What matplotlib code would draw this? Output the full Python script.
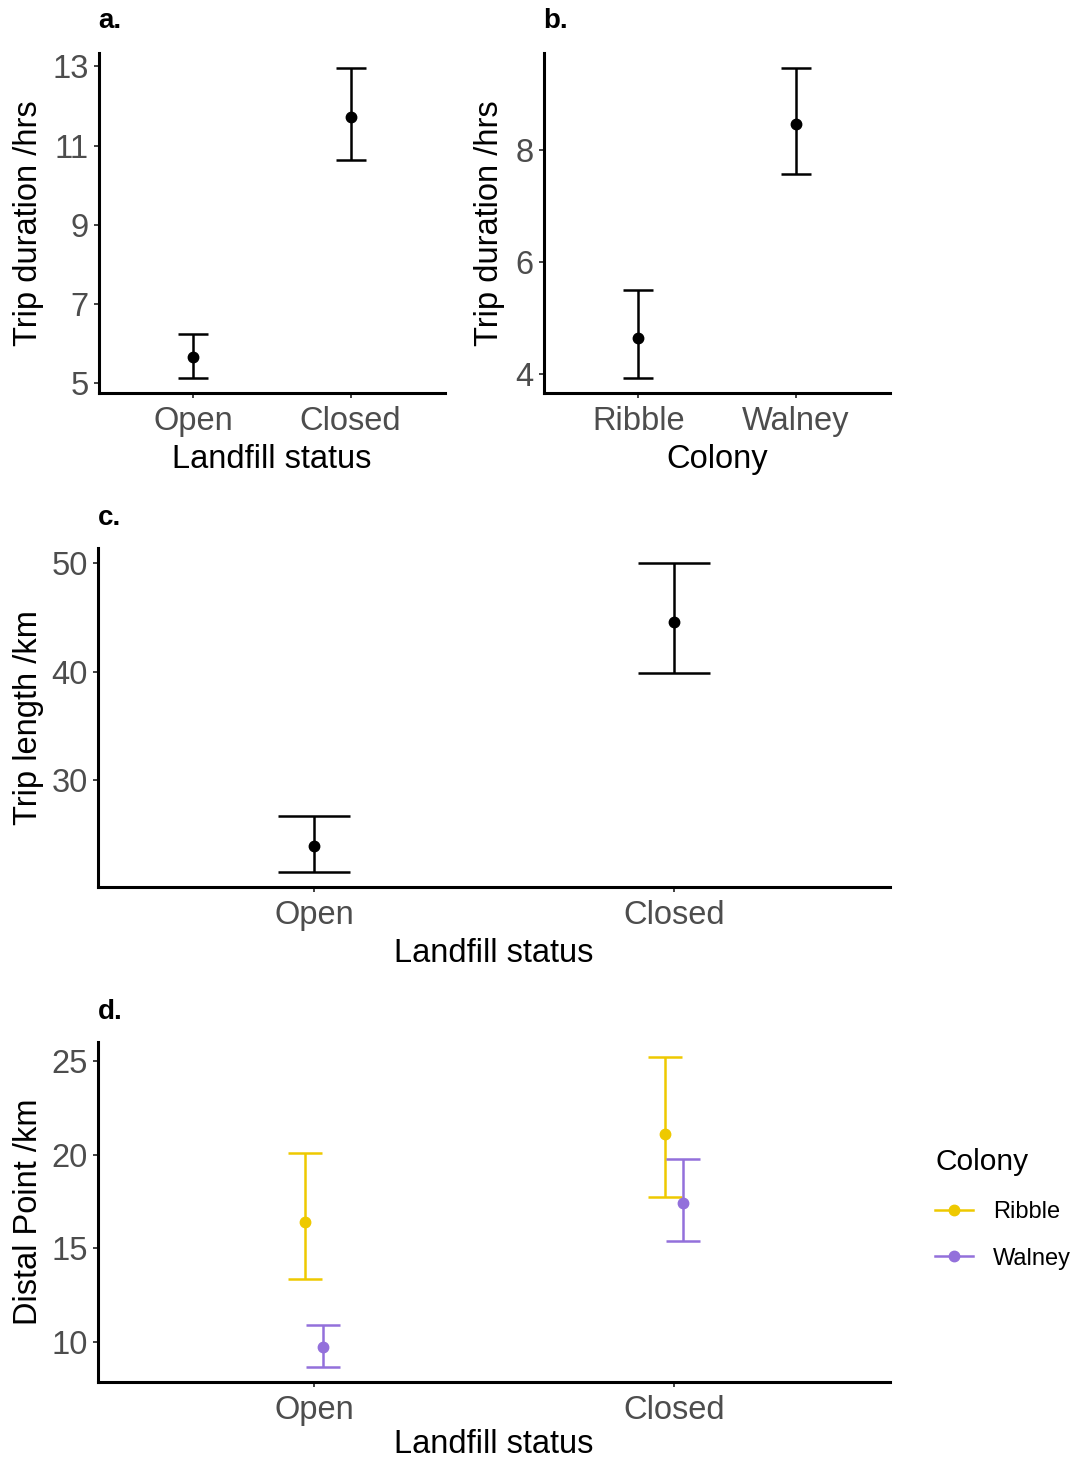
import matplotlib
matplotlib.use("Agg")
import matplotlib.pyplot as plt
from matplotlib.lines import Line2D
import numpy as np

plt.rcParams['font.family'] = ['Liberation Sans', 'DejaVu Sans']

# ---- data ----
landfill = ["Open", "Closed"]
colonies = ["Ribble", "Walney"]

dur_landfill_mean = [5.66, 11.72]
dur_landfill_low = [5.15, 10.63]
dur_landfill_high = [6.24, 12.95]

dur_colony_mean = [4.64, 8.45]
dur_colony_low = [3.93, 7.57]
dur_colony_high = [5.50, 9.45]

len_landfill_mean = [23.94, 44.6]
len_landfill_low = [21.6, 39.9]
len_landfill_high = [26.7, 50.0]

distal_ribble_mean = [16.39, 21.12]
distal_ribble_low = [13.35, 17.76]
distal_ribble_high = [20.07, 25.2]
distal_walney_mean = [9.70, 17.44]
distal_walney_low = [8.67, 15.39]
distal_walney_high = [10.87, 19.77]

y_ticks_a = [5, 7, 9, 11, 13]
y_ticks_b = [4, 6, 8]
y_ticks_c = [30, 40, 50]
y_ticks_d = [10, 15, 20, 25]

RIBBLE_COL = "#EEC900"
WALNEY_COL = "#9370DB"

W, H = 1078, 1461
fig = plt.figure(figsize=(W / 100, H / 100), dpi=100)


def add_ax(left, top, right, bottom):
    return fig.add_axes([left / W, 1 - bottom / H, (right - left) / W, (bottom - top) / H])


def style(ax, cats, yticks, xlabel, ylabel, ylx, lows, highs, xly=-0.15):
    for s in ["top", "right"]:
        ax.spines[s].set_visible(False)
    for s in ["left", "bottom"]:
        ax.spines[s].set_linewidth(2.2)
        ax.spines[s].set_color("black")
    ax.set_xlim(-0.6, len(cats) - 1 + 0.6)
    lo, hi = min(lows), max(highs)
    pad = 0.05 * (hi - lo)
    ax.set_ylim(lo - pad, hi + pad)
    ax.set_xticks(range(len(cats)))
    ax.set_xticklabels(cats)
    ax.set_yticks(yticks)
    ax.tick_params(axis="both", length=3.5, width=1.3, color="#333333",
                   labelcolor="#4D4D4D", labelsize=23.5, pad=4)
    ax.tick_params(axis="x", pad=5.8)
    ax.set_xlabel(xlabel, fontsize=23.5, color="black")
    ax.set_ylabel(ylabel, fontsize=23.5, color="black")
    ax.xaxis.set_label_coords(0.5, xly)
    ax.yaxis.set_label_coords(ylx, 0.5)


def ebar(ax, x, mean, low, high, color, capsize):
    mean = np.array(mean)
    yerr = [mean - np.array(low), np.array(high) - mean]
    ax.errorbar(x, mean, yerr=yerr, fmt="o", color=color, ecolor=color,
                markersize=7.5, elinewidth=1.8, capsize=capsize, capthick=1.8)


# panel a
ax_a = add_ax(99, 53, 445, 393)
ebar(ax_a, np.arange(2), dur_landfill_mean, dur_landfill_low, dur_landfill_high, "black", 11)
style(ax_a, landfill, y_ticks_a, "Landfill status", "Trip duration /hrs", -0.159,
      dur_landfill_low, dur_landfill_high)

# panel b
ax_b = add_ax(544, 53, 890, 393)
ebar(ax_b, np.arange(2), dur_colony_mean, dur_colony_low, dur_colony_high, "black", 10.5)
style(ax_b, colonies, y_ticks_b, "Colony", "Trip duration /hrs", -0.112,
      dur_colony_low, dur_colony_high)

# panel c
ax_c = add_ax(98, 548, 890, 887)
ebar(ax_c, np.arange(2), len_landfill_mean, len_landfill_low, len_landfill_high, "black", 26)
style(ax_c, landfill, y_ticks_c, "Landfill status", "Trip length /km", -0.068,
      len_landfill_low, len_landfill_high)

# panel d
ax_d = add_ax(98, 1042, 890, 1382)
dodge = 0.025
ebar(ax_d, np.arange(2) - dodge, distal_ribble_mean, distal_ribble_low, distal_ribble_high, RIBBLE_COL, 12)
ebar(ax_d, np.arange(2) + dodge, distal_walney_mean, distal_walney_low, distal_walney_high, WALNEY_COL, 12)
style(ax_d, landfill, y_ticks_d, "Landfill status", "Distal Point /km", -0.068,
      distal_ribble_low + distal_walney_low, distal_ribble_high + distal_walney_high,
      xly=-0.137)

handles = [Line2D([0], [0], color=RIBBLE_COL, lw=1.8, marker="o", markersize=7.5),
           Line2D([0], [0], color=WALNEY_COL, lw=1.8, marker="o", markersize=7.5)]
leg = fig.legend(handles, colonies, title="Colony", loc="upper left",
                 bbox_to_anchor=(928 / W, 1 - 1141 / H), frameon=False,
                 borderaxespad=0, borderpad=0.3,
                 fontsize=17, title_fontsize=21.5, handlelength=1.6,
                 labelspacing=1.05, handletextpad=0.85)
leg._legend_box.align = "left"

# panel letters
for lbl, (px, py) in zip(["a.", "b.", "c.", "d."],
                         [(98, 21), (543, 21), (98, 518), (98, 1012)]):
    fig.text(px / W, 1 - py / H, lbl, fontsize=20, fontweight="bold",
             ha="left", va="center")

fig.savefig("out.png", dpi=100)
